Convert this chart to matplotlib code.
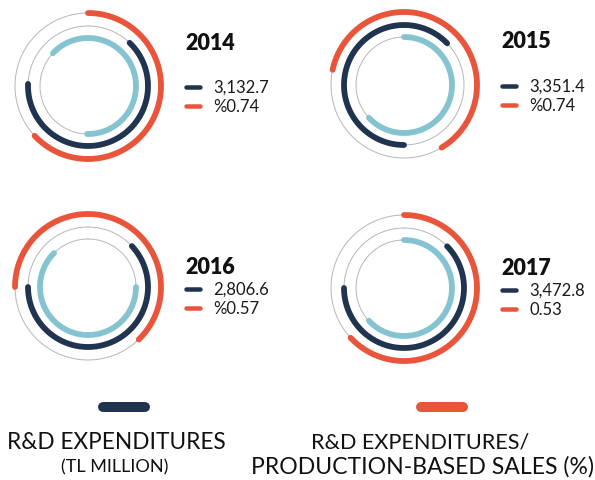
import numpy as np
import matplotlib
matplotlib.use("Agg")
import matplotlib.pyplot as plt

# Yearly R&D figures
years = ["2014", "2015", "2016", "2017"]
rd_expenditure = [3132.7, 3351.4, 2806.6, 3472.8]          # TL million
rd_ratio_labels = ["%0.74", "%0.74", "%0.57", "0.53"]       # share of production-based sales

# Decorative ring arcs: start / end angle, degrees clockwise from 12 o'clock
outer_start = [0, 282, 270, 0]
outer_end = [227, 509, 496, 227]
mid_start = [44, 180, 47, 46]
mid_end = [272, 406, 270, 270]
inner_start = [313, 0, 90, 0]
inner_end = [541, 227, 315, 227]

legend_titles = ["R&D EXPENDITURES", "R&D EXPENDITURES/"]
legend_subtitles = ["(TL MILLION)", "PRODUCTION-BASED SALES (%)"]

NAVY = "#203450"
ORANGE = "#e9553b"
LIGHT = "#86c3d1"
TRACK = "#b8b8b8"
FONT = "Lato"

W, H, DPI = 595, 481, 100
fig = plt.figure(figsize=(W / DPI, H / DPI), dpi=DPI)
ax = fig.add_axes([0, 0, 1, 1])
ax.set_xlim(0, W)
ax.set_ylim(H, 0)
ax.set_aspect("equal")
ax.axis("off")

px = 72 / DPI  # points per pixel

centers = [(88, 87), (404, 86), (88, 288), (404, 289)]
radii = [73, 60, 48]
ring_colors = [ORANGE, NAVY, LIGHT]


def arc(cx, cy, r, a0, a1, color, lw):
    t = np.radians(np.linspace(a0, a1, 200))
    ax.plot(cx + r * np.sin(t), cy - r * np.cos(t), color=color, lw=lw,
            solid_capstyle="round", zorder=3)


for i, year in enumerate(years):
    cx, cy = centers[i]
    starts = [outer_start[i], mid_start[i], inner_start[i]]
    ends = [outer_end[i], mid_end[i], inner_end[i]]
    for r, c, a0, a1 in zip(radii, ring_colors, starts, ends):
        arc(cx, cy, r, 0, 360, TRACK, 1.0 * px)
        arc(cx, cy, r, a0, a1, c, 5.8 * px)

    # year title and mini legend
    tx = cx + 97
    ty = cy - 44 if i < 2 else cy - 20
    ax.text(tx, ty, year, fontsize=15.5, fontweight="heavy", family=FONT,
            color="#111111", va="center", ha="left")
    ly1 = ty + 45 if i < 2 else ty + 22
    ly2 = ly1 + 19
    for ly, c in [(ly1, NAVY), (ly2, ORANGE)]:
        ax.plot([tx + 1, tx + 15], [ly, ly], color=c, lw=4.5 * px,
                solid_capstyle="round")
    ax.text(tx + 28, ly1, f"{rd_expenditure[i]:,.1f}", fontsize=12,
            family=FONT, color="#1a1a1a", va="center")
    ax.text(tx + 28, ly2, rd_ratio_labels[i], fontsize=12,
            family=FONT, color="#1a1a1a", va="center")

# bottom legend
for x0, c in [(124, NAVY), (442, ORANGE)]:
    ax.plot([x0 - 21, x0 + 21], [408, 408], color=c, lw=10 * px,
            solid_capstyle="round")
ax.text(116.5, 443, legend_titles[0], fontsize=16.3, family=FONT,
        color="#111111", ha="center", va="center")
ax.text(420, 443, legend_titles[1], fontsize=15.6, family=FONT,
        color="#111111", ha="center", va="center")
ax.text(115, 467, legend_subtitles[0], fontsize=13, family=FONT,
        color="#111111", ha="center", va="center")
ax.text(422, 467, legend_subtitles[1], fontsize=16.6, family=FONT,
        color="#111111", ha="center", va="center")

fig.savefig("out.png", dpi=DPI)
